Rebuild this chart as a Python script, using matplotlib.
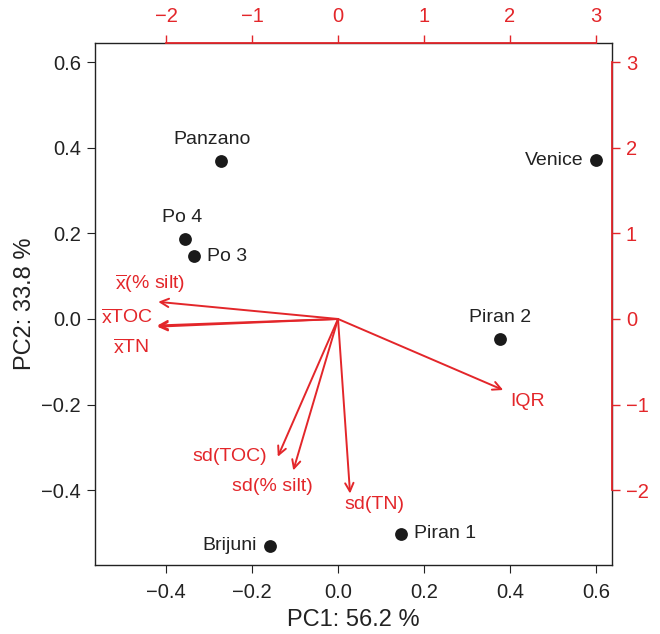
import matplotlib
matplotlib.use("Agg")
import matplotlib.pyplot as plt

plt.rcParams['font.family'] = ['Liberation Sans', 'DejaVu Sans']
plt.rcParams['mathtext.fontset'] = 'custom'
plt.rcParams['mathtext.rm'] = 'Liberation Sans'
plt.rcParams['mathtext.it'] = 'Liberation Sans'

RED = '#E3262A'

# site scores (PC1, PC2)
sites = ['Panzano', 'Venice', 'Po 4', 'Po 3', 'Piran 2', 'Piran 1', 'Brijuni']
pc1 = [-0.272, 0.600, -0.356, -0.335, 0.377, 0.147, -0.158]
pc2 = [0.369, 0.371, 0.187, 0.147, -0.047, -0.502, -0.530]
# label side: 1 below, 2 left, 3 above, 4 right
site_pos = [3, 2, 3, 4, 3, 4, 2]

# variable loadings (top/right axes)
variables = [r'$\overline{\mathrm{x}}$(% silt)', r'$\overline{\mathrm{x}}$TOC',
             r'$\overline{\mathrm{x}}$TN', 'IQR', 'sd(TOC)', 'sd(% silt)', 'sd(TN)']
load1 = [-2.09, -2.10, -2.10, 1.92, -0.70, -0.52, 0.14]
load2 = [0.20, -0.076, -0.09, -0.83, -1.61, -1.77, -2.04]
# label offsets (pixels) from arrow tip
var_dx = [-8, -30, -26, 24, -48, -21, 24]
var_dy = [18, 8, -21, -11, 0, -16, -11]

xlim = (-0.565, 0.637)
ylim = (-0.575, 0.645)
scale = 5.0

fig = plt.figure(figsize=(6.6, 6.34), dpi=100)
pos = [95/660, (634-565)/634, (612-95)/660, (565-43)/634]
ax = fig.add_axes(pos)
ax.set_xlim(*xlim)
ax.set_ylim(*ylim)
ax.set_xticks([-0.4, -0.2, 0.0, 0.2, 0.4, 0.6])
ax.set_yticks([-0.4, -0.2, 0.0, 0.2, 0.4, 0.6])
ax.set_xticklabels(['\u22120.4', '\u22120.2', '0.0', '0.2', '0.4', '0.6'])
ax.set_yticklabels(['\u22120.4', '\u22120.2', '0.0', '0.2', '0.4', '0.6'])
ax.tick_params(axis='both', direction='out', length=6, width=0.8, labelsize=14.5,
               colors='#222222', pad=4)
ax.tick_params(axis='x', pad=7)
for s in ax.spines.values():
    s.set_color('#222222')
    s.set_linewidth(1.0)
ax.set_xlabel('PC1: 56.2 %', fontsize=17, color='#222222', labelpad=5)
ax.set_ylabel('PC2: 33.8 %', fontsize=17, color='#222222', labelpad=4)

ax.scatter(pc1, pc2, s=85, color='#1a1a1a', zorder=5, linewidths=0)
offs = {1: (0, -16, 'center', 'top'), 2: (-13, 0, 'right', 'center'),
        3: (0, 13, 'center', 'bottom'), 4: (13, 0, 'left', 'center')}
for name, x, y, p in zip(sites, pc1, pc2, site_pos):
    dx, dy, ha, va = offs[p]
    if name == 'Panzano':
        dx = -9
    if name == 'Po 4':
        dx = -3
    ax.annotate(name, (x, y), xytext=(dx, dy), textcoords='offset pixels',
                ha=ha, va=va, fontsize=14, color='#222222')

ax2 = fig.add_axes(pos, facecolor='none')
ax2.set_xlim(xlim[0]*scale, xlim[1]*scale)
ax2.set_ylim(ylim[0]*scale, ylim[1]*scale)
ax2.xaxis.tick_top()
ax2.yaxis.tick_right()
ax2.set_xticks([-2, -1, 0, 1, 2, 3])
ax2.set_yticks([-2, -1, 0, 1, 2, 3])
ax2.set_xticklabels(['\u22122', '\u22121', '0', '1', '2', '3'])
ax2.set_yticklabels(['\u22122', '\u22121', '0', '1', '2', '3'])
ax2.tick_params(axis='both', direction='out', length=6, width=1.0, labelsize=14.5,
                colors=RED, pad=4)
ax2.tick_params(axis='x', pad=6)
ax2.spines['left'].set_visible(False)
ax2.spines['bottom'].set_visible(False)
for side in ['top', 'right']:
    ax2.spines[side].set_color(RED)
    ax2.spines[side].set_linewidth(1.3)
    ax2.spines[side].set_bounds(-2, 3)

for name, x, y, dx, dy in zip(variables, load1, load2, var_dx, var_dy):
    ax2.annotate('', xy=(x, y), xytext=(0, 0),
                 arrowprops=dict(arrowstyle='->,head_length=0.6,head_width=0.3',
                                 color=RED, lw=1.4, shrinkA=0, shrinkB=0))
    ax2.annotate(name, (x, y), xytext=(dx, dy), textcoords='offset pixels',
                 ha='center', va='center', fontsize=14, color=RED)

fig.savefig('out.png', dpi=100)
